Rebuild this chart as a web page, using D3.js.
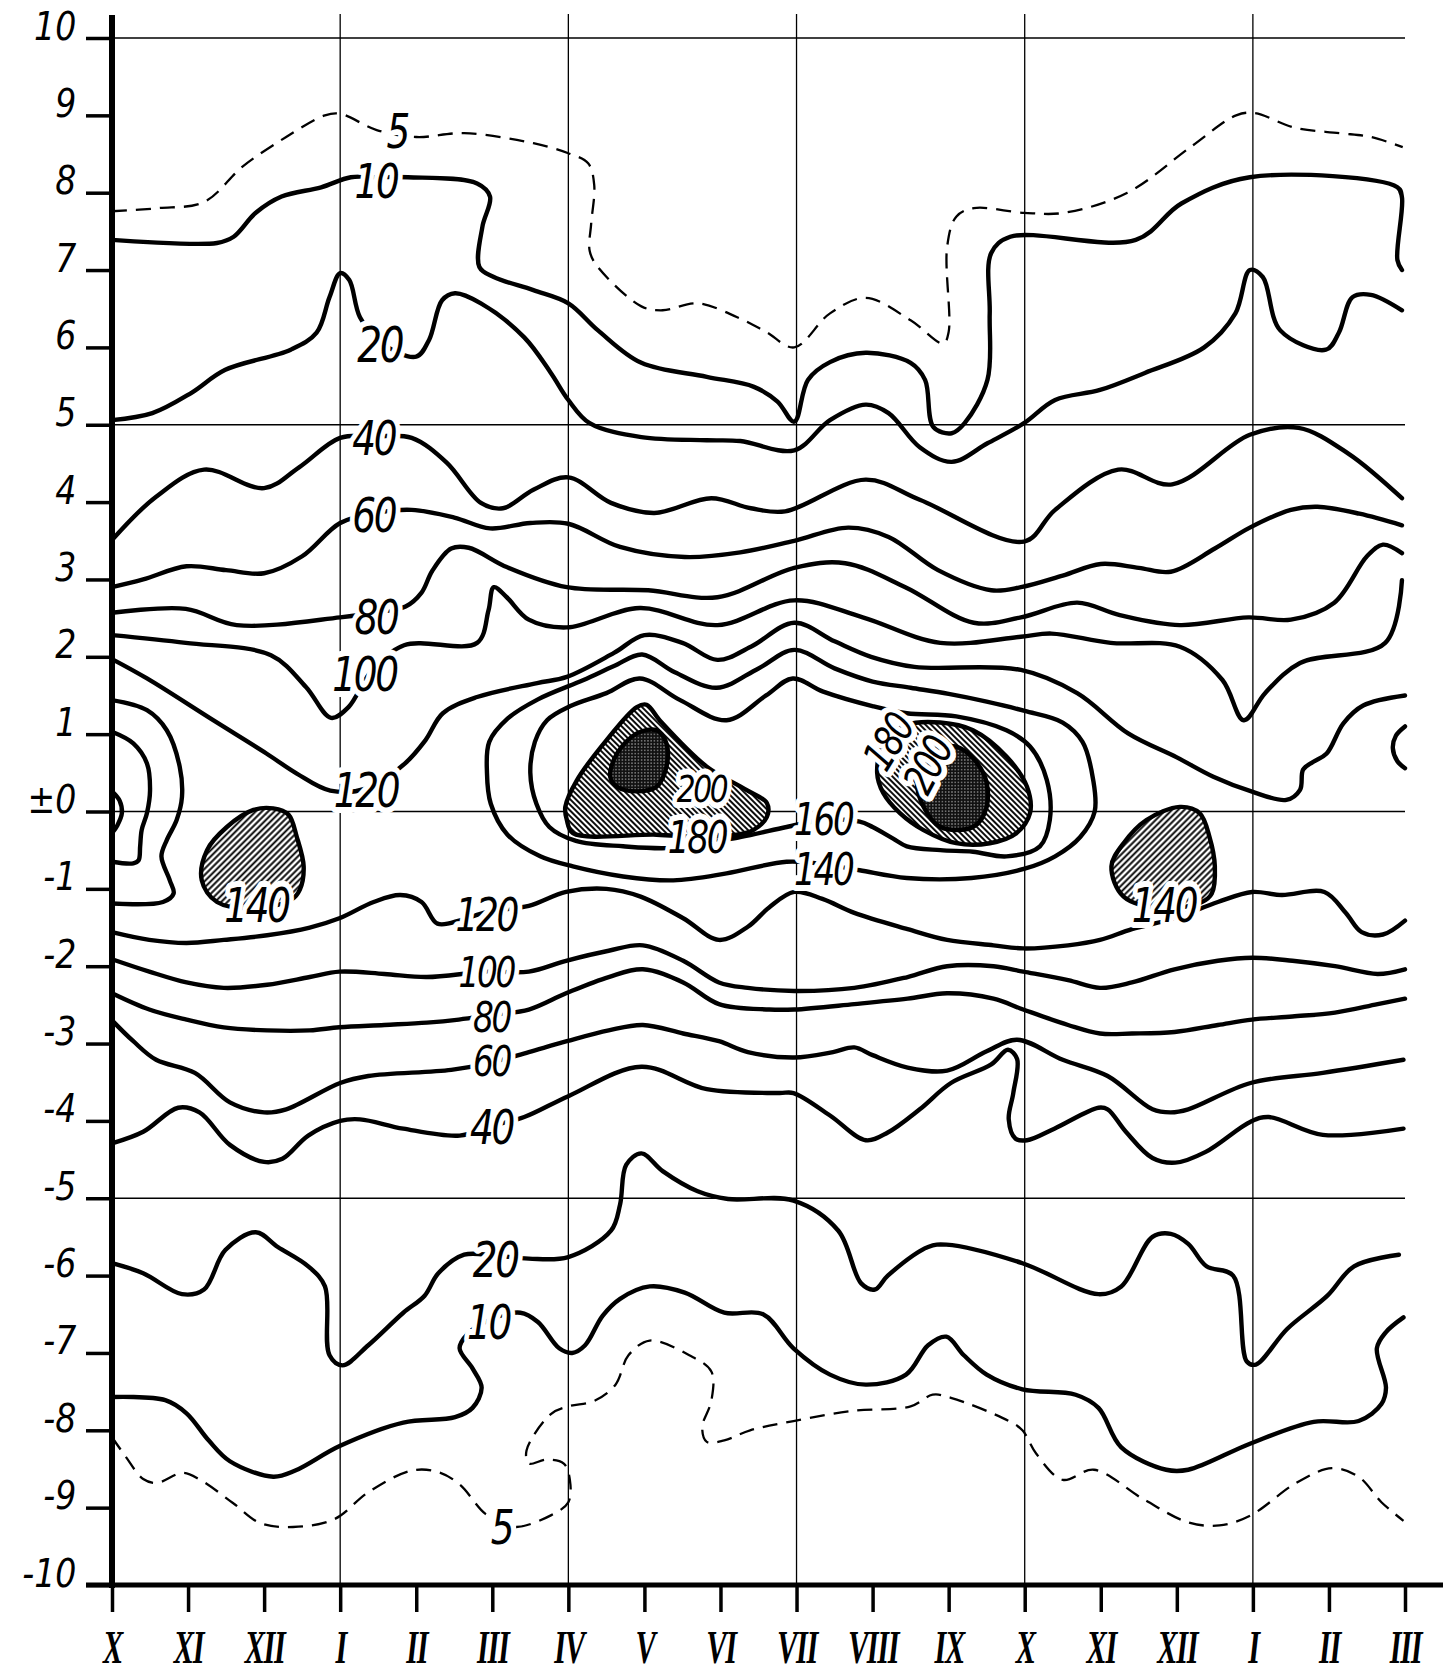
<!DOCTYPE html>
<html>
<head>
<meta charset="utf-8">
<script src="https://cdn.jsdelivr.net/npm/d3@7"></script>
<style>
  html, body { margin: 0; padding: 0; background: #fff; }
  svg { display: block; }
</style>
</head>
<body>
<div id="chart"></div>
<script>
// month ticks along the bottom (Oct .. Mar of the year after next)
const months = ["X", "XI", "XII", "I", "II", "III", "IV", "V", "VI", "VII", "VIII", "IX", "X", "XI", "XII", "I", "II", "III"];
const yTicks = d3.range(10, -11, -1);
const gridMonths = [3, 6, 9, 12, 15];
const gridValues = [10, 5, 0, -5];

// contour lines, [month index, value]
const c5Top = [[0,7.76],[0.6,7.8],[1.21,7.88],[1.72,8.34],[2.29,8.72],[2.8,9.0],[3.0,9.02],[3.48,8.81],[4.0,8.72],[4.63,8.77],[5.54,8.64],[6.0,8.51],[6.26,8.38],[6.34,8.1],[6.3,7.6],[6.28,7.25],[6.38,7.05],[6.96,6.53],[7.24,6.48],[7.7,6.57],[8.22,6.39],[8.6,6.2],[8.97,6.0],[9.44,6.44],[9.91,6.64],[10.5,6.35],[10.93,6.05],[11.0,6.2],[10.98,7.3],[11.1,7.69],[11.33,7.8],[11.99,7.74],[12.52,7.74],[13.35,8.0],[14.18,8.59],[14.78,9.0],[15.02,9.03],[15.55,8.84],[16.14,8.77],[16.55,8.72],[16.97,8.59]];
const c10Top = [[0,7.39],[1.38,7.35],[1.6,7.43],[1.89,7.74],[2.23,7.95],[2.75,8.07],[3.14,8.2],[3.48,8.2],[3.89,8.2],[4.8,8.12],[4.97,7.95],[4.87,7.56],[4.83,7.04],[5.02,6.91],[5.54,6.74],[6.0,6.57],[6.39,6.22],[6.96,5.8],[7.82,5.62],[8.44,5.49],[8.75,5.3],[8.97,5.04],[9.15,5.58],[9.44,5.81],[9.91,5.93],[10.5,5.8],[10.69,5.58],[10.8,4.97],[11.04,4.89],[11.21,5.02],[11.51,5.58],[11.54,6.44],[11.56,7.22],[11.81,7.43],[13.46,7.39],[14.06,7.86],[14.96,8.2],[16.9,8.07],[16.96,7.94],[16.9,7.13],[16.96,7.0]];
const c20Top = [[0,5.06],[0.53,5.15],[1.04,5.41],[1.49,5.71],[2.35,5.97],[2.69,6.19],[2.86,6.65],[3.0,6.96],[3.12,6.87],[3.26,6.39],[3.54,6.06],[4.0,5.88],[4.17,6.1],[4.34,6.61],[4.51,6.7],[4.85,6.57],[5.42,6.13],[5.77,5.67],[6.0,5.32],[6.28,5.02],[6.96,4.84],[7.82,4.8],[8.26,4.79],[8.97,4.67],[9.44,5.06],[9.91,5.26],[10.21,5.15],[10.62,4.71],[11.04,4.52],[11.51,4.76],[11.99,5.02],[12.4,5.32],[12.99,5.45],[13.58,5.67],[14.36,6.0],[14.77,6.44],[14.96,7.0],[15.13,6.91],[15.36,6.22],[15.96,5.97],[16.13,6.19],[16.31,6.65],[16.55,6.68],[16.96,6.48]];
const c40Top = [[0,3.51],[0.58,4.07],[1.21,4.42],[2.0,4.18],[2.46,4.45],[3.0,4.83],[3.47,4.85],[3.94,4.83],[4.4,4.51],[4.85,3.99],[5.14,3.92],[5.54,4.16],[6.0,4.32],[6.56,3.99],[7.13,3.86],[7.88,4.05],[8.4,3.92],[8.85,3.88],[9.91,4.29],[10.62,4.03],[11.99,3.49],[12.4,3.9],[13.23,4.42],[13.94,4.23],[14.96,4.87],[15.6,4.96],[16.25,4.63],[16.96,4.05]];
const c60Top = [[0,2.9],[0.41,3.0],[0.98,3.17],[1.5,3.12],[2.0,3.08],[2.5,3.3],[3.0,3.73],[3.47,3.86],[3.94,3.9],[4.5,3.8],[4.97,3.66],[5.5,3.73],[6.0,3.72],[6.68,3.42],[7.53,3.29],[8.26,3.35],[8.97,3.5],[9.68,3.67],[10.21,3.55],[10.86,3.12],[11.56,2.86],[11.95,2.9],[12.5,3.05],[13.0,3.2],[13.5,3.15],[13.92,3.1],[14.5,3.4],[14.96,3.67],[15.5,3.9],[15.85,3.94],[16.4,3.85],[16.96,3.7]];
const c80Top = [[0,2.57],[0.97,2.62],[1.64,2.41],[3.0,2.51],[3.44,2.57],[3.86,2.65],[4.07,2.83],[4.21,3.11],[4.46,3.4],[4.69,3.41],[5.19,3.16],[5.98,2.9],[7.05,2.86],[7.96,2.77],[8.97,3.15],[9.64,3.21],[10.43,2.9],[11.33,2.44],[11.95,2.51],[12.69,2.7],[13.25,2.54],[14.04,2.41],[14.94,2.51],[15.5,2.48],[16.07,2.7],[16.5,3.3],[16.71,3.45],[16.96,3.34]];
const c100Top = [[0,2.28],[0.97,2.18],[2.09,2.02],[2.55,1.61],[2.88,1.21],[3.11,1.35],[3.4,1.8],[3.84,2.15],[4.8,2.18],[4.95,2.6],[5.02,2.9],[5.19,2.77],[5.48,2.48],[5.98,2.38],[6.94,2.63],[7.96,2.41],[8.97,2.73],[9.87,2.51],[10.89,2.18],[11.95,2.26],[12.35,2.3],[13.13,2.18],[14.04,2.13],[14.6,1.7],[14.88,1.18],[15.16,1.53],[15.62,1.92],[16.74,2.18],[16.96,2.99]];
const c120Top = [[0,1.97],[0.46,1.72],[1.33,1.18],[2.03,0.75],[2.43,0.49],[2.87,0.27],[3.35,0.3],[3.85,0.62],[4.12,0.92],[4.35,1.27],[4.8,1.48],[5.59,1.66],[5.98,1.74],[6.6,2.05],[7.0,2.28],[7.5,2.18],[7.96,1.96],[8.4,2.13],[8.97,2.44],[9.5,2.2],[9.98,2.0],[10.55,1.87],[11.95,1.83],[12.69,1.53],[13.36,1.01],[14.0,0.7],[14.48,0.45],[14.98,0.26],[15.44,0.15],[15.62,0.28],[15.66,0.54],[15.79,0.64],[15.97,0.75],[16.19,1.14],[16.45,1.37],[17.0,1.5]];
const c140Ring = [[4.96,0.9],[5.2,1.2],[5.6,1.45],[6.2,1.7],[6.6,1.88],[6.97,2.03],[7.4,1.8],[7.95,1.6],[8.5,1.85],[8.97,2.09],[9.5,1.85],[10.0,1.68],[10.5,1.6],[11.0,1.52],[11.5,1.42],[12.0,1.3],[12.5,1.15],[12.76,0.9],[12.9,0.41],[12.92,0.0],[12.73,-0.33],[12.4,-0.58],[12.0,-0.74],[11.3,-0.86],[10.45,-0.86],[9.83,-0.76],[9.35,-0.68],[8.87,-0.65],[8.08,-0.8],[7.38,-0.89],[6.72,-0.84],[6.06,-0.71],[5.63,-0.58],[5.2,-0.3],[4.98,0.1],[4.93,0.5]];
const c160Ring = [[9.83,-0.13],[10.0,-0.2],[10.27,-0.35],[10.45,-0.45],[10.89,-0.5],[11.32,-0.52],[11.76,-0.58],[12.2,-0.45],[12.33,-0.11],[12.29,0.41],[12.07,0.84],[11.76,1.05],[11.1,1.23],[10.45,1.27],[10.01,1.36],[9.35,1.55],[8.95,1.72],[8.6,1.5],[8.08,1.18],[7.47,1.44],[6.94,1.72],[6.5,1.53],[6.02,1.36],[5.72,1.18],[5.56,0.9],[5.5,0.5],[5.58,0.1],[5.75,-0.2],[6.1,-0.38],[6.72,-0.45],[7.38,-0.47],[8.26,-0.33],[8.87,-0.2],[9.35,-0.11]];
const edge140 = [[0,1.44],[0.46,1.31],[0.72,1.05],[0.89,0.58],[0.92,0.19],[0.85,-0.11],[0.72,-0.37],[0.65,-0.58],[0.76,-0.89],[0.81,-1.06],[0.67,-1.17],[0,-1.19]];
const edge160 = [[0,1.03],[0.28,0.88],[0.46,0.62],[0.5,0.27],[0.46,-0.02],[0.39,-0.24],[0.37,-0.45],[0.35,-0.63],[0.28,-0.67],[0,-0.65]];
const edge180 = [[0,0.26],[0.1,0.14],[0.13,-0.02],[0.07,-0.18],[0,-0.28]];
const edgeRight140 = [[17,1.1],[16.88,0.98],[16.84,0.82],[16.9,0.65],[17,0.56]];

const c120Low = [[0,-1.56],[0.49,-1.66],[0.98,-1.7],[1.47,-1.66],[2.04,-1.6],[2.6,-1.5],[2.99,-1.38],[3.44,-1.17],[3.79,-1.08],[4.07,-1.17],[4.28,-1.45],[4.6,-1.4],[4.92,-1.3],[5.48,-1.22],[5.97,-1.04],[6.5,-1.0],[6.95,-1.1],[7.51,-1.38],[7.98,-1.66],[8.36,-1.49],[8.64,-1.24],[8.97,-1.04],[9.34,-1.13],[9.76,-1.31],[10.46,-1.52],[10.98,-1.66],[11.59,-1.73],[11.98,-1.77],[12.57,-1.73],[12.99,-1.66],[13.41,-1.52],[13.97,-1.38],[14.54,-1.17],[14.99,-1.04],[15.38,-1.08],[15.94,-1.04],[16.22,-1.31],[16.43,-1.56],[16.71,-1.59],[17,-1.41]];
const c100Low = [[0,-1.91],[0.49,-2.07],[0.98,-2.21],[1.47,-2.28],[2.04,-2.24],[2.6,-2.14],[2.99,-2.07],[3.58,-2.1],[4.14,-2.14],[4.92,-2.07],[5.48,-2.07],[5.97,-1.93],[6.53,-1.8],[6.98,-1.73],[7.51,-1.93],[7.98,-2.21],[8.36,-2.28],[8.97,-2.32],[9.76,-2.28],[10.46,-2.14],[10.98,-2.0],[11.59,-2.0],[11.98,-2.07],[12.57,-2.18],[12.99,-2.28],[13.41,-2.21],[13.97,-2.04],[14.54,-1.93],[14.99,-1.89],[15.52,-1.93],[16.08,-2.0],[16.64,-2.1],[17,-2.04]];
const c80Low = [[0,-2.35],[0.49,-2.56],[0.98,-2.69],[1.47,-2.79],[2.04,-2.83],[2.6,-2.83],[2.99,-2.79],[3.58,-2.76],[4.14,-2.73],[4.56,-2.69],[4.99,-2.63],[5.48,-2.56],[5.97,-2.35],[6.53,-2.14],[6.98,-2.04],[7.51,-2.21],[7.98,-2.49],[8.64,-2.56],[8.97,-2.56],[9.76,-2.49],[10.46,-2.42],[10.98,-2.35],[11.59,-2.42],[11.98,-2.56],[12.57,-2.76],[12.99,-2.87],[13.41,-2.87],[13.97,-2.85],[14.54,-2.76],[14.99,-2.69],[15.52,-2.65],[16.08,-2.6],[16.64,-2.49],[17,-2.42]];
const c60Low = [[0,-2.7],[0.28,-2.97],[0.58,-3.21],[1.09,-3.38],[1.55,-3.76],[2.0,-3.89],[2.29,-3.85],[3.0,-3.51],[3.37,-3.42],[4.46,-3.34],[4.97,-3.25],[5.48,-3.11],[5.98,-2.97],[6.53,-2.83],[6.98,-2.76],[7.51,-2.87],[7.98,-2.97],[8.36,-3.11],[8.97,-3.18],[9.48,-3.11],[9.76,-3.05],[10.0,-3.15],[10.46,-3.31],[10.98,-3.35],[11.5,-3.1],[11.9,-2.95],[12.5,-3.21],[13.09,-3.42],[13.68,-3.85],[13.92,-3.89],[14.15,-3.85],[14.97,-3.51],[15.92,-3.38],[16.98,-3.21]];
const c40Low = [[0,-4.29],[0.41,-4.14],[0.87,-3.83],[1.15,-3.89],[1.55,-4.31],[2.0,-4.53],[2.24,-4.49],[2.58,-4.19],[3.0,-4.0],[3.26,-3.98],[3.83,-4.1],[4.57,-4.19],[4.97,-4.07],[5.42,-3.95],[6.0,-3.68],[6.96,-3.3],[7.82,-3.59],[8.77,-3.64],[8.96,-3.64],[9.44,-3.93],[9.91,-4.25],[10.2,-4.15],[10.62,-3.85],[11.03,-3.51],[11.56,-3.27],[11.78,-3.08],[11.9,-3.2],[11.85,-3.64],[11.79,-3.98],[11.88,-4.23],[12.03,-4.25],[12.39,-4.1],[12.97,-3.83],[13.09,-3.85],[13.33,-4.14],[13.68,-4.48],[13.98,-4.54],[14.38,-4.4],[14.97,-4.01],[15.21,-3.95],[15.92,-4.18],[16.98,-4.1]];
const c20Low = [[0,-5.84],[0.41,-5.97],[0.92,-6.24],[1.21,-6.18],[1.49,-5.67],[1.89,-5.44],[2.18,-5.63],[2.58,-5.88],[2.8,-6.14],[2.86,-7.03],[3.03,-7.16],[3.37,-6.9],[3.83,-6.48],[4.11,-6.26],[4.29,-5.97],[4.63,-5.73],[5.02,-5.74],[5.48,-5.78],[6.0,-5.76],[6.56,-5.42],[6.68,-5.08],[6.76,-4.57],[6.96,-4.42],[7.24,-4.65],[7.7,-4.91],[8.1,-5.01],[8.96,-5.03],[9.55,-5.42],[9.85,-6.1],[10.03,-6.18],[10.2,-6.0],[10.73,-5.63],[10.97,-5.6],[11.97,-5.84],[12.97,-6.24],[13.27,-6.14],[13.68,-5.5],[13.92,-5.46],[14.15,-5.59],[14.39,-5.88],[14.74,-6.0],[14.92,-7.11],[15.04,-7.15],[15.45,-6.69],[15.98,-6.26],[16.33,-5.88],[16.92,-5.73]];
const c10Low = [[0,-7.57],[0.7,-7.61],[0.98,-7.78],[1.27,-8.13],[1.55,-8.4],[2.12,-8.6],[2.41,-8.52],[3.0,-8.2],[3.83,-7.9],[4.51,-7.83],[4.74,-7.71],[4.86,-7.45],[4.74,-7.2],[4.57,-6.94],[4.68,-6.75],[4.95,-6.58],[5.37,-6.48],[5.6,-6.6],[5.88,-6.94],[6.05,-7.0],[6.22,-6.9],[6.45,-6.52],[6.68,-6.3],[7.07,-6.14],[7.53,-6.22],[8.05,-6.48],[8.56,-6.5],[8.96,-6.94],[9.44,-7.28],[9.91,-7.41],[10.44,-7.28],[10.73,-6.9],[10.97,-6.79],[11.2,-7.03],[11.5,-7.28],[11.97,-7.47],[12.67,-7.54],[12.97,-7.71],[13.27,-8.22],[13.86,-8.51],[14.15,-8.51],[14.97,-8.17],[15.8,-7.89],[16.39,-7.88],[16.69,-7.66],[16.75,-7.45],[16.63,-6.94],[16.75,-6.73],[16.98,-6.54]];
const c5Low = [[0,-8.09],[0.18,-8.34],[0.41,-8.63],[0.59,-8.68],[0.93,-8.55],[1.16,-8.64],[1.59,-8.94],[1.95,-9.2],[2.38,-9.25],[2.92,-9.15],[3.37,-8.8],[3.94,-8.52],[4.29,-8.54],[4.57,-8.7],[4.91,-9.08],[5.14,-9.18],[5.31,-9.25],[5.77,-9.1],[6.0,-8.93],[6.02,-8.64],[5.94,-8.43],[5.71,-8.38],[5.48,-8.43],[5.45,-8.26],[5.77,-7.79],[6.0,-7.69],[6.34,-7.62],[6.62,-7.41],[6.79,-7.03],[7.07,-6.84],[7.59,-7.03],[7.88,-7.24],[7.88,-7.62],[7.76,-7.96],[7.82,-8.15],[8.05,-8.13],[8.39,-8.0],[8.96,-7.88],[9.73,-7.75],[10.5,-7.69],[10.79,-7.54],[11.03,-7.58],[11.79,-7.88],[11.97,-8.0],[12.15,-8.3],[12.5,-8.64],[12.91,-8.51],[13.56,-8.89],[14.15,-9.19],[14.56,-9.23],[14.97,-9.1],[15.57,-8.68],[16.04,-8.49],[16.39,-8.6],[16.69,-8.93],[16.98,-9.17]];

// shaded cores
const blobLeft140 = [[1.38,-1.17],[1.18,-0.89],[1.25,-0.5],[1.51,-0.2],[1.86,0.02],[2.12,0.04],[2.32,-0.04],[2.43,-0.33],[2.52,-0.71],[2.47,-1.01],[2.36,-1.14],[1.9,-1.25]];
const blobRight140 = [[13.3,-1.1],[13.14,-0.71],[13.3,-0.41],[13.6,-0.11],[14.04,0.06],[14.3,-0.02],[14.43,-0.33],[14.5,-0.71],[14.46,-1.06],[14.33,-1.17],[13.83,-1.25]];
const blobSpring180 = [[5.98,-0.11],[5.96,0.06],[6.11,0.4],[6.5,0.92],[6.9,1.35],[7.03,1.38],[7.2,1.18],[7.82,0.58],[8.34,0.28],[8.61,0.11],[8.61,-0.07],[8.43,-0.24],[8.21,-0.3],[7.73,-0.33],[7.16,-0.3],[6.06,-0.28]];
const blobSpring200 = [[6.55,0.45],[6.64,0.75],[6.9,1.01],[7.16,1.05],[7.29,0.88],[7.29,0.58],[7.16,0.32],[6.9,0.26],[6.64,0.32]];
const blobAutumn180 = [[10.15,0.9],[10.45,1.12],[10.89,1.15],[11.32,1.05],[11.76,0.71],[12.03,0.32],[12.07,-0.02],[11.89,-0.28],[11.54,-0.41],[11.1,-0.41],[10.67,-0.24],[10.36,-0.02],[10.14,0.24],[10.06,0.5]];
const blobAutumn200 = [[10.67,0.71],[11.1,0.84],[11.46,0.49],[11.5,0.06],[11.32,-0.2],[10.89,-0.2],[10.67,0.06],[10.58,0.41]];

// [month, value, text, rotation, font size]
const contourLabels = [
  [3.75, 8.8, "5", 0, 48], [3.47, 8.16, "10", 0, 48], [3.52, 6.05, "20", 0, 50], [3.44, 4.83, "40", 0, 48],
  [3.44, 3.84, "60", 0, 48], [3.47, 2.52, "80", 0, 48], [3.32, 1.78, "100", 0, 48], [3.34, 0.28, "120", 0, 48],
  [4.92, -1.33, "120", 0, 46], [4.92, -2.07, "100", 0, 42], [4.99, -2.65, "80", 0, 42], [4.99, -3.22, "60", 0, 42],
  [4.99, -4.07, "40", 0, 48], [5.04, -5.78, "20", 0, 50], [4.95, -6.6, "10", 0, 48], [5.12, -9.25, "5", 0, 48],
  [1.9, -1.2, "140", 0, 48], [13.83, -1.2, "140", 0, 48], [9.35, -0.1, "160", 0, 44], [9.35, -0.74, "140", 0, 44],
  [7.75, 0.3, "200", 0, 38], [7.69, -0.33, "180", 0, 44], [10.2, 0.9, "180", -58, 42], [10.72, 0.6, "200", -62, 42]
];

const solidLines = [c10Top, c20Top, c40Top, c60Top, c80Top, c100Top, c120Top,
  edge140, edge160, edge180, edgeRight140,
  c120Low, c100Low, c80Low, c60Low, c40Low, c20Low, c10Low];
const dashedLines = [c5Top, c5Low];
const rings = [c140Ring, c160Ring];

const width = 1447, height = 1674;
const x = d3.scaleLinear().domain([0, 17]).range([112, 1405]);
const y = d3.scaleLinear().domain([-10, 10]).range([1585, 38]);

const svg = d3.select("#chart").append("svg")
  .attr("width", width).attr("height", height)
  .attr("viewBox", `0 0 ${width} ${height}`);

const defs = svg.append("defs");
function hatch(id, angle, step, w) {
  const p = defs.append("pattern").attr("id", id)
    .attr("patternUnits", "userSpaceOnUse")
    .attr("width", step).attr("height", step)
    .attr("patternTransform", `rotate(${angle})`);
  p.append("rect").attr("width", step).attr("height", step).attr("fill", "#fff");
  p.append("line").attr("x1", step / 2).attr("y1", 0).attr("x2", step / 2).attr("y2", step)
    .attr("stroke", "#000").attr("stroke-width", w);
}
hatch("hatchUp", 45, 4.4, 1.9);
hatch("hatchDown", -45, 4.0, 1.9);
const dots = defs.append("pattern").attr("id", "dots")
  .attr("patternUnits", "userSpaceOnUse").attr("width", 3.2).attr("height", 3.2);
dots.append("rect").attr("width", 3.2).attr("height", 3.2).attr("fill", "#111");
dots.append("circle").attr("cx", 1.6).attr("cy", 1.6).attr("r", 0.6).attr("fill", "#fff");

const line = d3.line().x(d => x(d[0])).y(d => y(d[1])).curve(d3.curveCatmullRom.alpha(0.5));
const loop = d3.line().x(d => x(d[0])).y(d => y(d[1])).curve(d3.curveCatmullRomClosed.alpha(0.5));

// grid
const grid = svg.append("g").attr("stroke", "#000").attr("stroke-width", 1.3);
grid.selectAll("line.v").data(gridMonths).join("line")
  .attr("x1", d => x(d)).attr("x2", d => x(d))
  .attr("y1", y(-10)).attr("y2", 14);
grid.selectAll("line.h").data(gridValues).join("line")
  .attr("x1", x(0)).attr("x2", x(17))
  .attr("y1", d => y(d)).attr("y2", d => y(d));

// shaded cores
const cores = svg.append("g").attr("stroke", "#000").attr("stroke-width", 4.4).attr("stroke-linejoin", "round");
cores.selectAll("path.c140").data([blobLeft140, blobRight140]).join("path")
  .attr("d", loop).attr("fill", "url(#hatchUp)");
cores.selectAll("path.c180").data([blobSpring180, blobAutumn180]).join("path")
  .attr("d", loop).attr("fill", "url(#hatchDown)");
cores.selectAll("path.c200").data([blobSpring200, blobAutumn200]).join("path")
  .attr("d", loop).attr("fill", "url(#dots)");

// isolines
const iso = svg.append("g").attr("fill", "none").attr("stroke", "#000")
  .attr("stroke-linecap", "round").attr("stroke-linejoin", "round");
iso.selectAll("path.solid").data(solidLines).join("path")
  .attr("d", line).attr("stroke-width", 4.4);
iso.selectAll("path.ring").data(rings).join("path")
  .attr("d", loop).attr("stroke-width", 4.4);
iso.selectAll("path.dash").data(dashedLines).join("path")
  .attr("d", line).attr("stroke-width", 2.3).attr("stroke-dasharray", "15,9")
  .attr("stroke-linecap", "butt");

// isoline labels
svg.append("g").selectAll("g").data(contourLabels).join("g")
  .attr("transform", d => `translate(${x(d[0])},${y(d[1])}) rotate(${d[3]}) scale(0.78,1)`)
  .append("text")
  .attr("text-anchor", "middle").attr("dy", "0.36em")
  .attr("font-family", "DejaVu Sans, sans-serif").attr("font-style", "italic")
  .attr("font-size", d => d[4]).attr("letter-spacing", -3).attr("fill", "#000")
  .attr("stroke", "#fff").attr("stroke-width", 12).attr("stroke-linejoin", "round")
  .attr("paint-order", "stroke")
  .text(d => d[2]);

// axes
const yAxis = d3.axisLeft(y).tickValues(yTicks).tickSize(26).tickSizeOuter(0)
  .tickFormat(v => v === 0 ? "±0" : String(v));
const ya = svg.append("g").attr("transform", `translate(${x(0)},0)`).call(yAxis);
ya.select(".domain").remove();
ya.selectAll(".tick line").attr("stroke", "#000").attr("stroke-width", 3.5);
ya.selectAll(".tick text")
  .attr("transform", "scale(0.85,1)")
  .attr("x", -42).attr("y", -13).attr("dy", "0.36em")
  .attr("font-family", "DejaVu Sans, sans-serif").attr("font-style", "italic")
  .attr("font-size", 39).attr("fill", "#000");

const xAxis = d3.axisBottom(x).tickValues(d3.range(months.length)).tickSize(27).tickSizeOuter(0)
  .tickFormat(i => months[i]);
const xa = svg.append("g").attr("transform", `translate(0,${y(-10)})`).call(xAxis);
xa.select(".domain").remove();
xa.selectAll(".tick line").attr("stroke", "#000").attr("stroke-width", 3.5);
xa.selectAll(".tick text")
  .attr("transform", "scale(0.66,1)")
  .attr("x", 0).attr("y", 45).attr("dy", "0.71em")
  .attr("font-family", "Liberation Serif, DejaVu Serif, serif").attr("font-style", "italic")
  .attr("font-weight", "bold").attr("font-size", 46).attr("letter-spacing", -2).attr("fill", "#000");

// axis lines
svg.append("line").attr("x1", x(0)).attr("x2", x(0)).attr("y1", 15).attr("y2", y(-10) + 3)
  .attr("stroke", "#000").attr("stroke-width", 6);
svg.append("line").attr("x1", 86).attr("x2", 1443).attr("y1", y(-10)).attr("y2", y(-10))
  .attr("stroke", "#000").attr("stroke-width", 5);
</script>
</body>
</html>
